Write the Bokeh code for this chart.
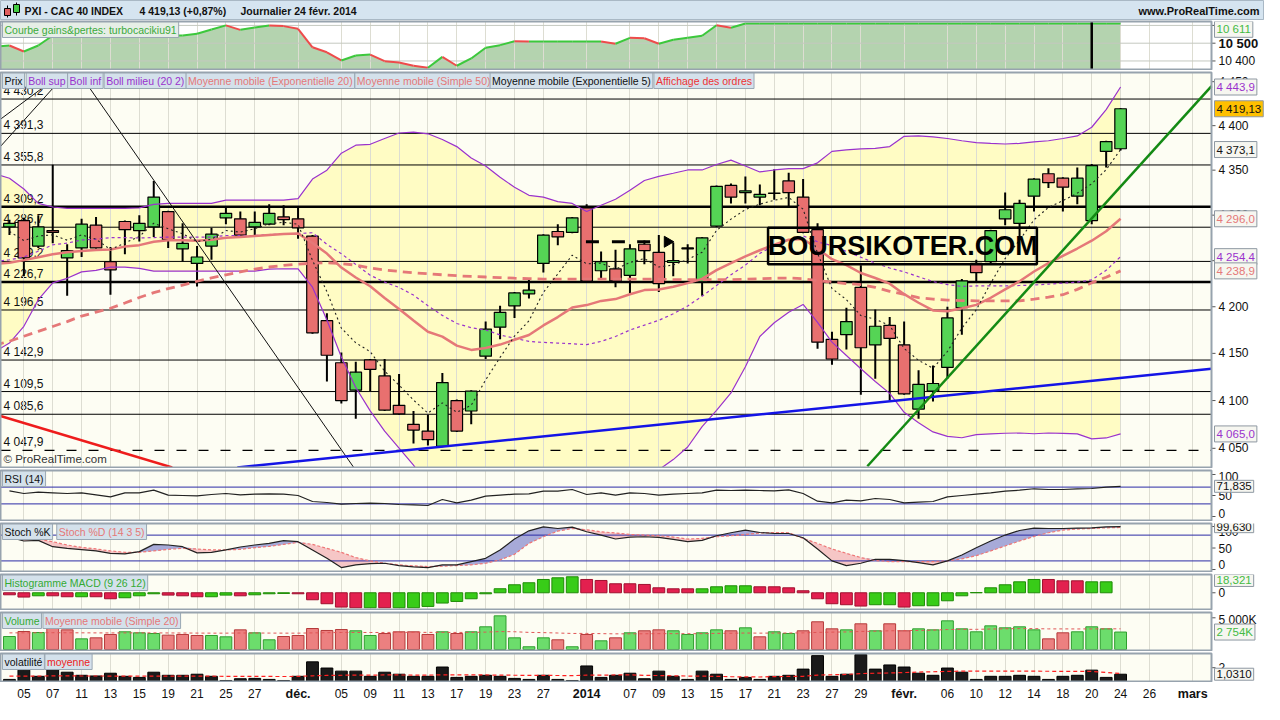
import numpy as np
from bokeh.plotting import figure
from bokeh.layouts import column
from bokeh.models import Range1d, FixedTicker, Grid, Label
from bokeh.core.properties import value
from bokeh.embed import file_html
from bokeh.resources import INLINE

# ------------------------------------------------------------------ data
tick_idx = [1, 3, 5, 7, 9, 11, 13, 15, 17, 20, 23, 25, 27, 29, 31, 33, 35, 37, 40,
            43, 45, 47, 49, 51, 53, 55, 57, 59, 62, 65, 67, 69, 71, 73, 75, 77, 79, 82]
tick_lbl = ["05", "07", "11", "13", "15", "19", "21", "25", "27", "déc.", "05", "09", "11",
            "13", "17", "19", "23", "27", "2014", "07", "09", "13", "15", "17", "21", "23",
            "27", "29", "févr.", "06", "10", "12", "14", "18", "20", "24", "26", "mars"]
month_lbl = ["déc.", "2014", "févr.", "mars"]

opens = [4287, 4294, 4266, 4283, 4253, 4264, 4289, 4249, 4293, 4283,
         4287, 4304, 4263, 4247, 4266, 4297, 4296, 4287, 4290, 4298,
         4296, 4277, 4185, 4140, 4111, 4143, 4126, 4095, 4075, 4068,
         4052, 4100, 4089, 4147, 4178, 4201, 4214, 4247, 4282, 4281,
         4308, 4239, 4241, 4234, 4268, 4259, 4248, 4263, 4227, 4288,
         4333, 4325, 4320, 4324, 4338, 4320, 4284, 4165, 4170, 4221,
         4159, 4180, 4159, 4091, 4110, 4135, 4199, 4247, 4249, 4296,
         4291, 4321, 4346, 4341, 4321, 4294, 4371, 4374]
highs = [4295, 4297, 4300, 4356, 4268, 4296, 4298, 4265, 4294, 4300,
         4338, 4305, 4291, 4266, 4286, 4308, 4304, 4304, 4312, 4311,
         4308, 4278, 4193, 4151, 4141, 4144, 4144, 4128, 4089, 4085,
         4129, 4101, 4111, 4184, 4201, 4216, 4230, 4279, 4290, 4298,
         4312, 4260, 4262, 4268, 4272, 4278, 4270, 4268, 4276, 4333,
         4335, 4343, 4334, 4351, 4347, 4340, 4291, 4173, 4199, 4245,
         4197, 4189, 4184, 4132, 4137, 4200, 4230, 4251, 4284, 4325,
         4317, 4341, 4352, 4342, 4353, 4357, 4383, 4420]
lows = [4278, 4233, 4264, 4269, 4212, 4254, 4263, 4213, 4257, 4271,
        4276, 4264, 4249, 4222, 4251, 4290, 4277, 4276, 4289, 4289,
        4274, 4171, 4120, 4097, 4081, 4110, 4089, 4085, 4055, 4053,
        4051, 4067, 4075, 4144, 4165, 4188, 4209, 4237, 4267, 4280,
        4227, 4230, 4221, 4215, 4246, 4216, 4233, 4247, 4212, 4287,
        4313, 4313, 4311, 4317, 4308, 4280, 4155, 4138, 4154, 4106,
        4123, 4100, 4106, 4081, 4099, 4123, 4170, 4228, 4246, 4289,
        4275, 4304, 4330, 4304, 4312, 4290, 4353, 4372]
closes = [4291, 4253, 4287, 4281, 4261, 4290, 4264, 4240, 4284, 4291,
          4320, 4273, 4269, 4254, 4279, 4302, 4278, 4292, 4302, 4295,
          4286, 4172, 4148, 4100, 4130, 4133, 4090, 4086, 4069, 4059,
          4119, 4068, 4110, 4176, 4194, 4215, 4218, 4278, 4276, 4297,
          4228, 4249, 4228, 4263, 4261, 4225, 4250, 4264, 4275, 4332,
          4320, 4327, 4323, 4324.5, 4325, 4281, 4162, 4144, 4184, 4156,
          4179, 4166, 4107, 4117, 4118, 4188, 4228, 4237, 4283, 4306,
          4313, 4340, 4336, 4331, 4341, 4355, 4382, 4419.13]

# indicator lines start one session earlier (index -1) to reach the left edge
ind_x = list(range(-1, 78))
bb_up = [4346, 4341, 4329, 4313, 4309, 4307.6, 4307.6, 4307.6, 4307.6, 4307.6, 4308,
         4312, 4313, 4313, 4313, 4313, 4316.6, 4316.6, 4316.6, 4316.6, 4316.6,
         4318.3, 4340, 4350, 4369, 4378, 4379, 4385.5, 4391.7, 4392.7, 4390.8,
         4384.4, 4376.4, 4363.7, 4354.7, 4342, 4331, 4322, 4320, 4315, 4313,
         4304, 4311, 4317.6, 4327.5, 4338.4, 4343, 4346.5, 4350.2, 4350.2, 4356.3,
         4361.2, 4354.7, 4348, 4350.2, 4351.7, 4351.7, 4358.2, 4371, 4372.7, 4373.8,
         4374.5, 4376.4, 4388, 4388.4, 4387.3, 4385.5, 4383, 4380.8, 4380, 4379.3,
         4380, 4381.8, 4383, 4385.5, 4388.4, 4398.2, 4418.2, 4443.9]
bb_mid = [4249, 4251, 4254, 4260.3, 4267.4, 4269.2, 4272.7, 4273.5, 4275.3, 4275.3, 4274.8,
          4275.3, 4275.8, 4275.8, 4275.8, 4275.8, 4277.6, 4277.6, 4277.6, 4278.7, 4278.9,
          4279.7, 4280.6, 4267.9, 4257.6, 4245.9, 4234.1, 4226.7, 4220.9, 4212.6, 4201.1,
          4190.7, 4182, 4177.4, 4175, 4169.7, 4166.2, 4162.8, 4161.7, 4161, 4160.3,
          4159.3, 4162.8, 4168, 4175, 4180.2, 4185.4, 4192.4, 4200.8, 4211.4, 4223,
          4234.6, 4245.2, 4258, 4266.5, 4272.9, 4277.1, 4270.7, 4266.5, 4260.2, 4253.7,
          4247.3, 4242, 4237.8, 4232.5, 4227.2, 4224, 4222, 4222.5, 4222.5, 4222.5,
          4223, 4223.5, 4224.5, 4225.5, 4226.7, 4229, 4239.5, 4254.4]
bb_low = [4152, 4161, 4179, 4207.6, 4225.8, 4230.8, 4237.8, 4239.4, 4243, 4243, 4241.6,
          4238.6, 4238.6, 4238.6, 4238.6, 4238.6, 4238.6, 4238.6, 4238.6, 4240.8, 4241.2,
          4241.1, 4221.2, 4185.8, 4146.2, 4113.8, 4089.2, 4067.9, 4050.1, 4032.5, 4011.4,
          3997, 3987.6, 3991.1, 3995.3, 3997.4, 4001.4, 4003.6, 4003.4, 4007, 4007.6,
          4014.6, 4014.6, 4018.4, 4022.5, 4022, 4027.8, 4038.3, 4051.4, 4072.6, 4089.7,
          4108, 4135.7, 4168, 4182.8, 4194.1, 4202.5, 4183.2, 4162, 4147.7, 4133.6,
          4120.1, 4107.6, 4087.6, 4076.6, 4067.1, 4062.5, 4061, 4064.2, 4065, 4065.7,
          4066, 4065.2, 4066, 4065.5, 4065, 4059.8, 4060.8, 4065.0]
ema20 = [4246.4, 4247.8, 4250.6, 4253.8, 4257, 4259.1, 4260.7, 4261.7, 4262.3, 4265.4, 4267,
         4270.7, 4272.3, 4272.3, 4271.8, 4272.9, 4275, 4276, 4277.1, 4278.2, 4279.2,
         4279.7, 4269.4, 4257.8, 4242.5, 4231.7, 4222.2, 4209.5, 4197.6, 4185.2, 4173.1,
         4167.9, 4158.3, 4153.7, 4155.8, 4159.4, 4164.6, 4169.6, 4179.9, 4188.9, 4199.1,
         4201.8, 4206.3, 4208.3, 4213.5, 4218, 4218.6, 4221.6, 4225.6, 4230.2, 4239.7,
         4247.3, 4254.8, 4261.4, 4267.4, 4272.9, 4273.7, 4263.1, 4251.6, 4245.1, 4236.6,
         4231.1, 4225, 4213.6, 4204.3, 4196, 4195.2, 4198.3, 4202, 4209.7, 4218.8,
         4227.6, 4238.2, 4247.4, 4255.2, 4263.3, 4271.9, 4282.3, 4296.0]
sma50 = [4159, 4162.9, 4168.3, 4173.5, 4178.8, 4184, 4190, 4194.2, 4198.4, 4204, 4210,
         4215.3, 4219.6, 4223.4, 4227.6, 4231.2, 4234.6, 4237.8, 4240.7, 4243.1, 4244.9,
         4246.3, 4247.3, 4247.8, 4246.8, 4245.2, 4242, 4239.9, 4238.3, 4236.7, 4235.7,
         4234.6, 4233.6, 4232.8, 4232.2, 4231.5, 4230.9, 4230.4, 4229.9, 4229.9, 4229.9,
         4229.9, 4229.9, 4229.9, 4229.9, 4229.9, 4229.9, 4229.3, 4229.3, 4229.3, 4229.3,
         4229.3, 4229.9, 4230.4, 4230.9, 4231.1, 4230.4, 4228.3, 4226.7, 4225.1, 4224,
         4221, 4216.7, 4213.5, 4209.8, 4208.2, 4207.2, 4206.7, 4206.4, 4206.4, 4206.4,
         4206.4, 4208.2, 4210.4, 4213, 4218.8, 4225.9, 4232, 4238.9]
ema5 = [4282, 4272, 4277, 4278.3, 4272.5, 4278.3, 4273.5, 4262.2, 4269.4, 4276.5,
        4291.1, 4285, 4279.5, 4270.9, 4273.5, 4283, 4281.3, 4285, 4290.6, 4292.1,
        4290, 4250.4, 4216.3, 4177, 4161.3, 4151.8, 4131.1, 4116.2, 4100.5, 4086.8,
        4097.6, 4087.7, 4095, 4121.8, 4145.7, 4168.5, 4184.8, 4215.6, 4235.6, 4256,
        4246.6, 4247.3, 4240.8, 4248.1, 4252.3, 4243.1, 4245.3, 4251.4, 4259.2, 4283.1,
        4295.6, 4306.2, 4312.1, 4316.5, 4319.6, 4306.6, 4258.1, 4219.7, 4207.7, 4190.5,
        4186.6, 4179.8, 4155.2, 4142.6, 4134.2, 4152, 4177, 4196.8, 4225.5, 4252.3,
        4272.5, 4294.9, 4308.5, 4316, 4324.4, 4334.8, 4350.5, 4373.1]

levels = [4430.2, 4391.3, 4355.8, 4309.2, 4286.7, 4249.2, 4226.7, 4196.5, 4142.9, 4109.5, 4085.6, 4047.9]
level_txt = ["4 430,2", "4 391,3", "4 355,8", "4 309,2", "4 286,7", "4 249,2", "4 226,7",
             "4 196,5", "4 142,9", "4 109,5", "4 085,6", "4 047,9"]
thick_levels = [4309.2, 4226.7]
dashed_levels = [4047.9]

# drawn trend lines: (x0, y0, x1, y1) in session index / price
trend_black = [(4.81, 4460.5, 23.86, 4030.1), (-0.62, 4407.3, 3.72, 4460.5), (-0.62, 4376.6, 3.99, 4460.5)]
trend_red = [(-0.62, 4083.8, 11.28, 4030.1)]
trend_blue = [(15.79, 4030.1, 83.3, 4133.7)]
trend_green = [(59.45, 4031.4, 83.3, 4444.9)]
order_x = [40.4, 42.2, 43.95]
order_arrow_x = [45.6]
order_price = 4270.7

eq_x = list(range(-1, 78))
equity = [10481, 10487, 10453, 10487, 10543, 10543, 10543, 10543, 10543, 10543, 10543,
          10543, 10543, 10543, 10553, 10577, 10600, 10575, 10588, 10600, 10596,
          10581, 10477, 10449, 10403, 10431, 10436, 10399, 10391, 10373, 10362,
          10423, 10373, 10414, 10474, 10489, 10511, 10509, 10509, 10509, 10509,
          10509, 10509, 10497, 10530, 10528, 10497, 10519, 10530, 10542, 10601,
          10587, 10611, 10611, 10611, 10611, 10611, 10611, 10611, 10611, 10611,
          10611, 10611, 10611, 10611, 10611, 10611, 10611, 10611, 10611, 10611,
          10611, 10611, 10611, 10611, 10611, 10611, 10611, 10611]
equity_mark = 75

rsi = [61, 54.8, 57.9, 56.4, 54.8, 56.4, 51.6, 46.8, 56.4, 56.4,
       62.7, 50.8, 50, 49.2, 52.4, 54.8, 51.6, 53.2, 54, 53.2,
       50, 35.7, 33.3, 29.4, 31, 31.7, 31, 28.6, 27.8, 26.2,
       40.5, 32.5, 38.9, 48.4, 50.8, 53.2, 54, 60.3, 60.3, 64.3,
       52.4, 56.4, 50.8, 56.4, 54.8, 50.8, 53.2, 54.8, 56.4, 62.7,
       61.9, 62.7, 61.9, 61, 63.5, 54.8, 36.5, 32.5, 38.9, 37.3,
       42.9, 40.5, 32.5, 34.1, 35.7, 46.8, 50, 53.2, 56.4, 60.3,
       62.7, 66, 64.3, 64.3, 66, 66.7, 69.8, 71.835]
stoch_k = [75.5, 66.3, 67.7, 53.1, 49.2, 46.2, 43.2, 37.6, 36.3, 41.6,
           58.4, 57, 53.1, 38.6, 40, 45.5, 52.4, 57, 60.7, 67,
           64.7, 45.5, 26.1, 4.6, 10.8, 13.9, 14.6, 9.2, 6.2, 4.6,
           10.8, 10.8, 18.5, 26.1, 45.5, 70.9, 90, 99.3, 95.4, 98.6,
           87.8, 80.1, 70.9, 75.5, 76.2, 74.6, 70, 64.7, 67.7, 78.5,
           85.5, 91.7, 86.1, 83.8, 83.8, 73.9, 47.8, 20.1, 9.2, 14.6,
           23.8, 23.8, 20.8, 16.2, 10.8, 20.1, 33.9, 50.8, 66.3, 80.1,
           90.8, 96.3, 95.4, 95.4, 96.3, 97, 99.3, 99.63]
stoch_d = [75.5, 73.2, 70.9, 64.7, 57, 51.5, 47.8, 43.2, 40, 40,
           43.2, 46.9, 49.2, 47.8, 45.5, 45.5, 46.9, 50.8, 53.8, 58.4,
           63, 58.4, 49.2, 40, 27.7, 20.1, 14.6, 10.8, 8.5, 6.9,
           7.6, 9.2, 10.8, 14.6, 22.4, 35.3, 60.7, 76.2, 89.4, 95.4,
           92.4, 87.8, 84.8, 81.5, 80.1, 78.5, 75.5, 70.9, 72.3, 76.2,
           78.5, 81.5, 84.8, 86.1, 85.5, 72.3, 60.7, 47.8, 37.6, 27.7,
           20.8, 18.5, 18.5, 18.5, 18.5, 20.1, 24.7, 32.3, 43.2, 54.7,
           66.3, 76.9, 85.5, 91.7, 94, 95.4, 97, 97.7]
macd_hist = [-3, -6.4, -4.5, -4.5, -5.9, -5.9, -5.9, -8.9, -7.4, -4.5,
             -1.5, -3.5, -4.5, -5.9, -5.9, -3.5, -4.5, -3, -1.5, -1,
             -1.5, -10.4, -16.3, -21.3, -22.3, -22.3, -22.3, -22.3, -22.3, -20.3,
             -15.3, -12.9, -8.9, -1.5, 6, 11.9, 14.9, 19.8, 22.3, 23.8,
             19.8, 18.3, 13.4, 13.4, 12.4, 7.4, 5.9, 5.9, 5.9, 8.9,
             10.4, 10.4, 8.9, 8.9, 7.4, 3, -8.9, -16.3, -17.8, -19.8,
             -17.8, -17.8, -21.3, -19.3, -19.3, -11.9, -4.5, 0.3, 7.4, 11.9,
             16.3, 19.8, 19.8, 17.8, 17.8, 16.3, 16.3, 18.321]
macd_up = "rrgrrgrrggg" "rrrggrgggr" "rrrrgrgggg" "gggggggggr" "rrrrrrrggg" "grrrrrrrrg" "grgggggggg" "grrrgg"
volume_k = [2050, 2840, 2680, 3680, 3100, 1680, 1840, 2370, 2790, 2630,
            2520, 2260, 2370, 2210, 2210, 2000, 3100, 2630, 1530, 2050,
            2210, 3310, 3000, 3150, 2950, 2210, 2520, 2790, 2790, 2370,
            2790, 2520, 2790, 3580, 5310, 1840, 430, 1840, 1530, 430,
            2370, 1370, 1840, 2630, 2950, 3100, 2950, 2370, 2630, 3100,
            2950, 3420, 2000, 2790, 2520, 2950, 4370, 3260, 3100, 4050,
            2950, 4050, 2950, 3260, 3100, 4520, 3260, 2790, 3730, 3420,
            3580, 3100, 1680, 2630, 2790, 3580, 3260, 2754]
volume_ma = [2620, 2630, 2640, 2650, 2640, 2630, 2620, 2610, 2620, 2630,
             2620, 2610, 2600, 2590, 2580, 2580, 2600, 2600, 2590, 2580,
             2580, 2620, 2650, 2680, 2690, 2680, 2690, 2700, 2710, 2700,
             2700, 2690, 2700, 2740, 2830, 2800, 2700, 2660, 2600, 2530,
             2540, 2500, 2470, 2470, 2480, 2500, 2500, 2490, 2500, 2540,
             2560, 2600, 2580, 2590, 2600, 2620, 2700, 2740, 2770, 2850,
             2880, 2950, 2980, 3010, 3050, 3150, 3180, 3180, 3230, 3270,
             3300, 3290, 3250, 3250, 3240, 3250, 3260, 3260]
volat = [0.26, 1.64, 0.72, 2.0, 1.33, 0.87, 0.77, 1.18, 0.72, 0.56,
         1.33, 0.87, 0.87, 1.03, 0.72, 0.10, 0.36, 0.41, 0.26, 0.10,
         0.72, 2.87, 1.95, 1.49, 1.49, 0.72, 1.33, 1.03, 0.72, 0.72,
         2.10, 0.56, 0.72, 0.87, 0.72, 0.41, 0.26, 0.87, 0.26, 0.10,
         2.26, 0.56, 0.87, 1.18, 0.36, 1.49, 0.72, 0.26, 1.49, 1.03,
         0.26, 0.56, 0.26, 0.72, 0.87, 1.79, 3.79, 0.72, 1.03, 3.95,
         1.79, 2.41, 2.10, 1.18, 0.87, 1.95, 1.33, 0.26, 0.72, 0.72,
         0.87, 0.72, 0.26, 0.72, 0.87, 1.64, 0.56, 1.031]
volat_mean = [0.74, 0.75, 0.76, 0.78, 0.78, 0.77, 0.77, 0.76, 0.76, 0.75,
              0.76, 0.75, 0.75, 0.74, 0.74, 0.72, 0.71, 0.70, 0.70, 0.69,
              0.70, 0.80, 0.85, 0.88, 0.90, 0.90, 0.92, 0.92, 0.91, 0.90,
              0.95, 0.93, 0.92, 0.92, 0.90, 0.88, 0.86, 0.86, 0.84, 0.82,
              0.90, 0.90, 0.92, 0.95, 0.85, 0.84, 0.80, 0.76, 0.74, 0.72,
              0.66, 0.64, 0.62, 0.68, 0.70, 0.72, 0.90, 0.95, 1.00, 1.13,
              1.18, 1.22, 1.28, 1.35, 1.40, 1.45, 1.49, 1.49, 1.49, 1.49,
              1.49, 1.48, 1.47, 1.46, 1.45, 1.44, 1.30, 1.13]

# ------------------------------------------------------------------ style
idx = list(range(len(closes)))
W = 1264
PLOT_W = 1211                      # width of the plotting area, the rest holds the price scale
X0, X1 = -0.62, 83.30
PXU = PLOT_W / (X1 - X0)            # pixels per session
XR = X0 + W / PXU
FONT = "Liberation Sans"
FRAME = "#97A3AE"
GRID = "#DDDDD2"
PANEL_BG = "#FDFDF3"
TAG_BG = "#D4E1EB"
TAG_BORDER = "#9AA8B4"
PURPLE = "#9A32CD"
SALMON = "#E57878"
xr = Range1d(X0, XR)


def px2i(px):
    return X0 + px / 14.62


def make_panel(h, y0, y1, bt=2, bb=1, log=False, bg=PANEL_BG):
    f = figure(width=W, height=h, x_range=xr, y_range=Range1d(y0, y1),
               x_axis_type=None, y_axis_type="log" if log else "linear",
               toolbar_location=None, output_backend="svg",
               min_border_left=0, min_border_right=0, min_border_top=bt, min_border_bottom=bb,
               background_fill_color="white", border_fill_color="white",
               outline_line_color=None)
    f.yaxis.visible = False
    f.ygrid.grid_line_color = None
    f.quad(left=X0, right=X1, bottom=y0, top=y1, fill_color=bg, line_color=None, level="image")
    f.add_layout(Grid(dimension=0, ticker=FixedTicker(ticks=tick_idx),
                      grid_line_color=GRID, grid_line_width=1))
    return f


def frame_border(f, y0, y1):
    f.quad(left=X0, right=X1, bottom=y0, top=y1, fill_color=None, line_color=FRAME,
           line_width=2, level="overlay")


def price_scale(f, ticks, labels, offs=0, size="12px", bold=False):
    f.segment(x0=X1, x1=X1 + 4 / PXU, y0=ticks, y1=ticks, line_color="#555555", line_width=1)
    f.text(x=X1, y=ticks, text=labels, x_offset=7, y_offset=offs, text_baseline="middle",
           text_align="left", text_font=value(FONT), text_font_size=size,
           text_font_style="bold" if bold else "normal", text_color="#111111")


def hline(f, y, color="#2A2AA6", width=1, dash="solid"):
    f.segment(x0=X0, x1=X1, y0=y, y1=y, line_color=color, line_width=width, line_dash=dash)


def tag(f, text, px, ytop, color="#111111", bg=TAG_BG):
    f.add_layout(Label(x=px2i(px), y=ytop, y_offset=-8, text=text, text_font=FONT,
                       text_font_size="10.5px", text_color=color, text_baseline="middle",
                       text_align="left", background_fill_color=bg,
                       border_line_color=TAG_BORDER, padding=2))


def vbox(f, y, text, color="#111111", bg="#F6F6F0"):
    f.add_layout(Label(x=X1, y=y, x_offset=3, text=text, text_font=FONT,
                       text_font_size="11.5px", text_color=color, text_baseline="middle",
                       text_align="left", background_fill_color=bg,
                       border_line_color="#8E98A2", padding=2))


# ------------------------------------------------------------------ title bar
tf = figure(width=W, height=20, x_range=Range1d(0, W), y_range=Range1d(0, 20),
            x_axis_type=None, y_axis_type=None, toolbar_location=None, output_backend="svg",
            min_border=0, background_fill_color="#D5E4F0", border_fill_color="white",
            outline_line_color="#A9B8C5")
tf.segment(x0=[7, 16], x1=[7, 16], y0=[3, 5], y1=[15, 18], line_color="black", line_width=1)
tf.quad(left=[4, 13], right=[10, 19], bottom=[5, 8], top=[12, 16],
        fill_color=["#E06060", "#44CC44"], line_color="black", line_width=1)
for x, txt in [(24, "PXI - CAC 40 INDEX"), (139, "4 419,13 (+0,87%)"),
               (240, "Journalier  24 févr. 2014")]:
    tf.add_layout(Label(x=x, y=10, text=txt, text_font=FONT, text_font_size="10.5px",
                        text_font_style="bold", text_color="#111111", text_baseline="middle"))
tf.add_layout(Label(x=W - 5, y=10, text="www.ProRealTime.com", text_font=FONT,
                    text_font_size="11px", text_font_style="bold", text_color="#111111",
                    text_baseline="middle", text_align="right"))

# ------------------------------------------------------------------ equity curve
EQ0, EQ1 = 10352, 10622
ef = make_panel(50, EQ0, EQ1, bt=1, bb=1, bg="white")
ef.varea(x=eq_x, y1=EQ0, y2=equity, fill_color="#B4D3AF", level="image")
hline(ef, [10400, 10500, 10600], color="#C4C8C0")
eq_col = ["#3CC83C" if b >= a else "#EE4B4B" for a, b in zip(equity[:-1], equity[1:])]
ef.segment(x0=eq_x[:-1], y0=equity[:-1], x1=eq_x[1:], y1=equity[1:], line_color=eq_col, line_width=2)
ef.segment(x0=equity_mark, x1=equity_mark, y0=EQ0, y1=EQ1, line_color="black", line_width=2.5)
frame_border(ef, EQ0, EQ1)
price_scale(ef, [10400], ["10 400"])
price_scale(ef, [10500], ["10 500"], size="13px", bold=True)
price_scale(ef, [10600], [""])
tag(ef, "Courbe gains&pertes: turbocacikiu91", 2, EQ1, color="#3BAA3B", bg="#E6EEE6")
vbox(ef, 10578, "10 611", color="#44BB44")

# ------------------------------------------------------------------ main price chart
P0, P1 = 4030.1, 4460.5
mf = make_panel(398, P0, P1, bt=2, bb=1, log=True)
mf.varea(x=ind_x, y1=bb_low, y2=bb_up, fill_color="#FFFCC4", level="image")

thin = [v for v in levels if v not in thick_levels and v not in dashed_levels]
hline(mf, thin, color="black", width=1)
hline(mf, thick_levels, color="black", width=2.5)
hline(mf, dashed_levels, color="black", width=1.2, dash="10 12")
mf.text(x=[X0] * len(levels), y=levels, text=level_txt, x_offset=3, y_offset=-1,
        text_baseline="bottom", text_align="left", text_font=value(FONT),
        text_font_size="12px", text_color="#111111", level="underlay")

up = [c >= o for o, c in zip(opens, closes)]
mf.segment(x0=idx, x1=idx, y0=lows, y1=highs, line_color="black", line_width=2)
mf.vbar(x=idx, width=0.8, bottom=[min(o, c) for o, c in zip(opens, closes)],
        top=[max(o, c) for o, c in zip(opens, closes)],
        fill_color=["#55D455" if u else "#E8706F" for u in up], line_color="black", line_width=1.2)

mf.line(ind_x, bb_up, line_color=PURPLE, line_width=1.2)
mf.line(ind_x, bb_low, line_color=PURPLE, line_width=1.2)
mf.line(ind_x, bb_mid, line_color=PURPLE, line_width=1.2, line_dash="3 3")
mf.line(ind_x, sma50, line_color=SALMON, line_width=2.8, line_dash="9 6")
mf.line(ind_x, ema20, line_color=SALMON, line_width=2.5)
mf.line(idx, ema5, line_color="#222222", line_width=1.1, line_dash="2 3")

for lines, col, lw in [(trend_black, "#111111", 1), (trend_red, "#EE1C1C", 2.5),
                       (trend_blue, "#1414E6", 2.5), (trend_green, "#148A14", 2.5)]:
    mf.segment(x0=[t[0] for t in lines], y0=[t[1] for t in lines],
               x1=[t[2] for t in lines], y1=[t[3] for t in lines], line_color=col, line_width=lw)

mf.segment(x0=[x - 0.45 for x in order_x], x1=[x + 0.45 for x in order_x],
           y0=order_price, y1=order_price, line_color="black", line_width=3)
mf.scatter(x=order_arrow_x, y=order_price, marker="triangle", size=11, angle=-np.pi / 2,
           fill_color="black", line_color="black")

mf.quad(left=52.57, right=71.2, bottom=4246.2, top=4286, fill_color=None,
        line_color="black", line_width=2.5)
mf.add_layout(Label(x=61.9, y=4266, text="BOURSIKOTER.COM", text_font=FONT,
                    text_font_size="27px", text_font_style="bold", text_color="black",
                    text_align="center", text_baseline="middle"))
mf.add_layout(Label(x=X0, y=P0, x_offset=3, y_offset=3, text="© ProRealTime.com",
                    text_font=FONT, text_font_size="11.5px", text_color="#333333",
                    text_baseline="bottom"))
frame_border(mf, P0, P1)
price_scale(mf, [4050, 4100, 4150, 4200, 4250, 4300, 4350, 4400, 4450],
            ["4 050", "4 100", "4 150", "4 200", "4 250", "4 300", "4 350", "4 400", "4 450"])

for txt, px, col in [("Prix", 2, "#111111"), ("Boll sup", 26, PURPLE), ("Boll inf", 68, PURPLE),
                     ("Boll milieu (20 2)", 105, PURPLE),
                     ("Moyenne mobile (Exponentielle 20)", 188, SALMON),
                     ("Moyenne mobile (Simple 50)", 359, SALMON),
                     ("Moyenne mobile (Exponentielle 5)", 496, "#111111"),
                     ("Affichage des ordres", 662, "#EE3333")]:
    tag(mf, txt, px, P1, color=col)

vbox(mf, 4443.9, "4 443,9", color=PURPLE)
vbox(mf, 4419.13, "4 419,13", bg="#FFC000")
vbox(mf, 4373.1, "4 373,1")
vbox(mf, 4296.0, "4 296,0", color=SALMON)
vbox(mf, 4254.4, "4 254,4", color=PURPLE)
vbox(mf, 4238.9, "4 238,9", color=SALMON)
vbox(mf, 4065.0, "4 065,0", color=PURPLE)

# ------------------------------------------------------------------ RSI
R0, R1 = -9.5, 109.5
rf = make_panel(53, R0, R1, bt=2, bb=1)
hline(rf, [70, 30])
rf.line(idx, rsi, line_color="#222222", line_width=1.2)
frame_border(rf, R0, R1)
price_scale(rf, [0, 50, 100], ["0", "50", "100"], offs=[-3, 0, 2])
tag(rf, "RSI (14)", 2, R1)
vbox(rf, 71.835, "71,835")

# ------------------------------------------------------------------ Stochastic
S0, S1 = -4.6, 107
sf = make_panel(51, S0, S1, bt=2, bb=1)
k_arr, d_arr = np.array(stoch_k), np.array(stoch_d)
sf.varea(x=idx, y1=d_arr, y2=np.maximum(k_arr, d_arr), fill_color="#A7AAD8")
sf.varea(x=idx, y1=np.minimum(k_arr, d_arr), y2=d_arr, fill_color="#F6C6C6")
hline(sf, [80, 20])
sf.line(idx, stoch_d, line_color="#EE7777", line_width=1.2, line_dash="3 2")
sf.line(idx, stoch_k, line_color="#222222", line_width=1.2)
frame_border(sf, S0, S1)
price_scale(sf, [0, 50, 100], ["0", "50", "100"], offs=[-5, 0, 5])
tag(sf, "Stoch %K", 2, S1)
tag(sf, "Stoch %D (14 3 5)", 57, S1, color=SALMON)
vbox(sf, 99.63, "99,630")

# ------------------------------------------------------------------ MACD histogram
M0, M1 = -24.9, 27.2
mcf = make_panel(38, M0, M1, bt=2, bb=1)
mcf.vbar(x=idx, width=0.82, bottom=0, top=macd_hist,
         fill_color=["#38CC18" if c == "g" else "#E3204F" for c in macd_up],
         line_color=["#1E8C06" if c == "g" else "#A0102F" for c in macd_up], line_width=1)
frame_border(mcf, M0, M1)
price_scale(mcf, [0], ["0"])
tag(mcf, "Histogramme MACD (9 26 12)", 2, M1, color="#33AA33")
vbox(mcf, 18.321, "18,321", color="#44BB44")

# ------------------------------------------------------------------ Volume
V0, V1 = -158, 5836
vf = make_panel(41, V0, V1, bt=2, bb=1)
prev = [closes[0] - 1] + closes[:-1]
vup = [c > p for c, p in zip(closes, prev)]
vf.vbar(x=idx, width=0.82, bottom=0, top=volume_k,
        fill_color=["#6CDD6C" if u else "#EC8080" for u in vup],
        line_color=["#2F9E2F" if u else "#B53A3A" for u in vup], line_width=1)
vf.line(idx, volume_ma, line_color="#E05555", line_width=1, line_dash="3 3")
frame_border(vf, V0, V1)
price_scale(vf, [5000], ["5 000K"], offs=[2])
tag(vf, "Volume", 2, V1, color="#33AA33")
tag(vf, "Moyenne mobile (Simple 20)", 43, V1, color=SALMON)
vbox(vf, 2754, "2 754K", color="#44BB44")

# ------------------------------------------------------------------ Volatility
T0, T1 = -0.05, 4.11
vof = make_panel(31, T0, T1, bt=2, bb=1)
vof.vbar(x=idx, width=0.82, bottom=0, top=volat, fill_color="#1A1A1A",
         line_color="#000000", line_width=1)
vof.line(idx, volat_mean, line_color="#FF2020", line_width=1.2, line_dash="4 3")
frame_border(vof, T0, T1)
price_scale(vof, [2], ["2"])
tag(vof, "volatilité", 2, T1)
tag(vof, "moyenne", 45, T1, color="#EE2222")
vbox(vof, 1.031, "1,0310")

# ------------------------------------------------------------------ date axis
af = figure(width=W, height=22, x_range=xr, y_range=Range1d(0, 1), x_axis_type=None,
            y_axis_type=None, toolbar_location=None, output_backend="svg",
            min_border_left=0, min_border_right=0, min_border_top=0, min_border_bottom=0,
            background_fill_color="white", border_fill_color="white", outline_line_color=None)
reg = [(i, t) for i, t in zip(tick_idx, tick_lbl) if t not in month_lbl]
bold = [(i, t) for i, t in zip(tick_idx, tick_lbl) if t in month_lbl]
af.text(x=[r[0] for r in reg], y=0.5, text=[r[1] for r in reg], text_align="center",
        text_baseline="middle", text_font=value(FONT), text_font_size="12px", text_color="#111111")
af.text(x=[b[0] for b in bold], y=0.5, text=[b[1] for b in bold], text_align="center",
        text_baseline="middle", text_font=value(FONT), text_font_size="12.5px",
        text_font_style="bold", text_color="#111111")

layout = column(tf, ef, mf, rf, sf, mcf, vf, vof, af, spacing=0)
open("out.html", "w").write(file_html(layout, INLINE, "PXI - CAC 40 INDEX"))
